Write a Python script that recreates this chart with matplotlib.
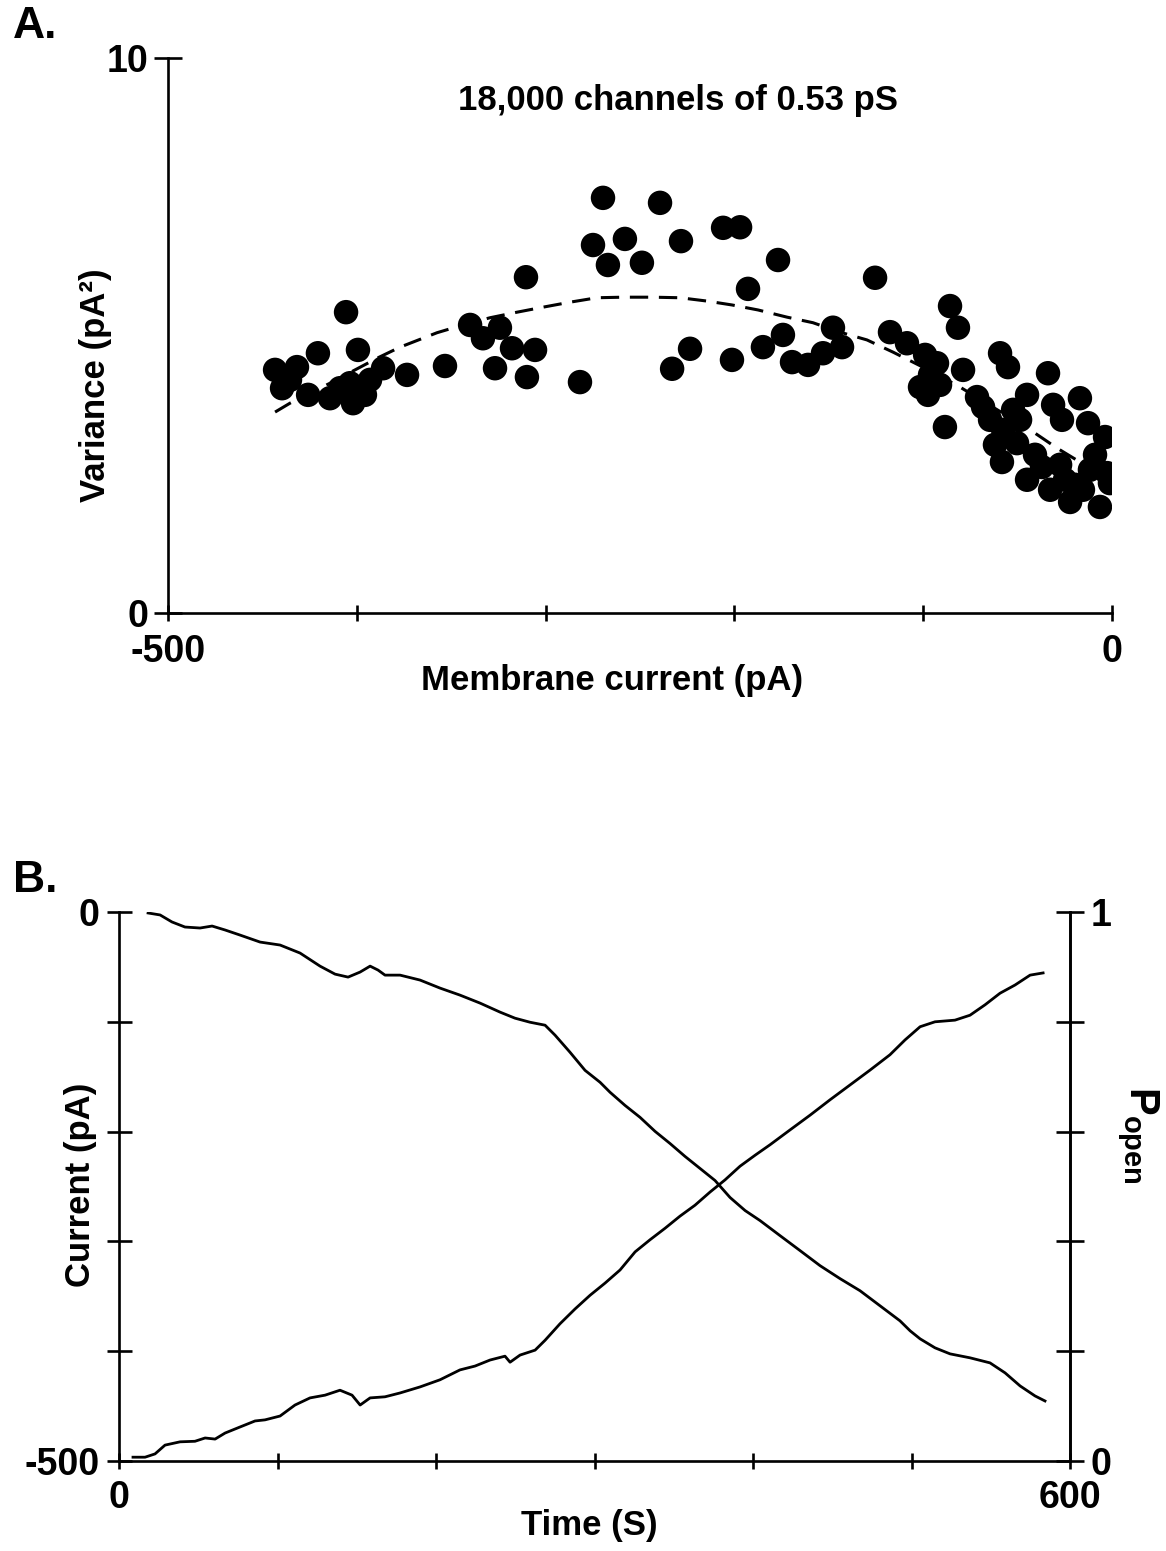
import numpy as np
import matplotlib
matplotlib.use("Agg")
import matplotlib.pyplot as plt

plt.rcParams['font.family'] = ['Liberation Sans', 'DejaVu Sans']
plt.rcParams['font.weight'] = 'bold'
plt.rcParams['axes.labelweight'] = 'bold'
plt.rcParams['mathtext.fontset'] = 'custom'
plt.rcParams['mathtext.rm'] = 'Liberation Sans:bold'
plt.rcParams['mathtext.it'] = 'Liberation Sans:bold'
plt.rcParams['mathtext.bf'] = 'Liberation Sans:bold'
plt.rcParams['mathtext.default'] = 'regular'

# ---- panel A: variance vs membrane current ----
current_pA = [-405.7, -443.3, -431.7, -420.6, -439.6, -425.8, -414.2, -402.0, -399.4, -403.6,
              -386.1, -393.0, -373.4, -353.3, -340.0, -333.2, -324.2, -317.8, -305.6, -326.8,
              -309.9, -310.4, -281.8, -269.6, -239.4, -274.9, -258.0, -267.0, -249.0, -228.3,
              -206.0, -197.0, -176.9, -192.8, -125.5, -233.0, -223.5, -201.3, -184.9, -174.3,
              -169.5, -161.0, -153.1, -147.8, -143.0, -117.6, -108.6, -99.0, -92.7, -85.8,
              -81.6, -101.7, -97.5, -78.9, -88.5, -59.3, -55.1, -33.9, -71.5, -68.3,
              -45.0, -52.4, -57.7, -50.3, -31.2, -17.0, -26.5, -12.7, -3.7, -58.3,
              -45.0, -37.1, -32.8, -24.9, -22.2, -11.7, -2.6, -1.1, -6.4, -15.4,
              -408.9, -64.6, -62.0, -40.8, -27.5, -19.6, -9.0, -96.4, -91.1, -435.4,
              -395.7, -48.7]
variance = [5.42, 4.38, 4.43, 4.68, 4.05, 3.93, 3.87, 3.78, 4.74, 4.14,
            4.41, 4.20, 4.29, 4.45, 5.19, 4.95, 5.14, 4.77, 4.74, 4.41,
            4.25, 6.05, 4.16, 7.48, 7.39, 6.63, 6.74, 6.27, 6.31, 6.70,
            6.94, 6.95, 6.36, 5.84, 6.04, 4.40, 4.76, 4.56, 4.79, 5.01,
            4.52, 4.47, 4.68, 5.14, 4.79, 5.06, 4.86, 4.65, 4.50, 5.53,
            5.14, 4.07, 3.93, 4.38, 3.35, 4.68, 4.43, 4.32, 3.89, 3.71,
            3.93, 3.66, 3.30, 3.06, 3.75, 3.87, 3.48, 3.42, 3.17, 2.72,
            2.40, 2.63, 2.22, 2.40, 2.00, 2.58, 2.52, 2.34, 1.91, 2.22,
            4.05, 3.48, 3.03, 2.85, 2.67, 2.31, 2.85, 4.29, 4.11, 4.20,
            3.93, 3.48]

fit_current = [-443.3, -435.4, -414.2, -389.3, -377.1, -357.5, -343.7, -329.4, -315.1, -301.4,
               -287.1, -272.8, -259.0, -243.1, -228.8, -214.5, -201.3, -187.5, -172.1, -158.4,
               -144.1, -129.8, -116.0, -99.0, -80.5, -43.4, -29.1, -17.0, -6.4]
fit_variance = [3.62, 3.78, 4.14, 4.59, 4.79, 5.05, 5.19, 5.32, 5.42, 5.51,
                5.60, 5.68, 5.69, 5.69, 5.68, 5.62, 5.55, 5.46, 5.33, 5.23,
                5.06, 4.92, 4.70, 4.41, 4.07, 3.30, 2.97, 2.72, 2.50]

# ---- panel B: current and P_open vs time ----
t_current = [18.3, 25.9, 33.4, 41.6, 51.1, 58.7, 66.9, 76.3, 89.0, 101.6,
             114.2, 126.8, 136.3, 144.5, 152.1, 158.4, 163.4, 167.8, 177.3, 189.9,
             202.5, 215.1, 227.8, 240.4, 249.8, 259.3, 268.8, 275.1, 284.5, 294.0,
             303.5, 309.8, 319.2, 328.7, 338.2, 347.6, 357.1, 366.6, 376.0, 385.5,
             395.0, 404.4, 417.0, 429.7, 442.3, 454.9, 467.5, 480.1, 492.7, 499.1,
             505.4, 514.8, 524.3, 536.9, 549.5, 559.0, 568.5, 577.9, 584.2]
current_trace = [-0.9, -2.7, -9.1, -13.7, -14.6, -12.8, -16.4, -21.0, -27.4, -30.1,
                 -37.4, -49.3, -56.6, -59.3, -54.7, -49.3, -52.9, -57.5, -57.5, -62.0,
                 -69.3, -75.7, -83.0, -91.2, -96.7, -100.4, -103.1, -112.2, -127.7, -144.2,
                 -155.1, -164.2, -176.1, -187.0, -199.8, -210.8, -222.6, -233.6, -244.5, -260.0,
                 -271.9, -281.0, -294.7, -308.4, -322.1, -333.9, -344.9, -358.6, -372.3, -381.4,
                 -388.7, -396.9, -402.4, -406.0, -410.6, -419.7, -431.6, -440.7, -445.3]

t_popen = [8.8, 16.4, 22.7, 29.0, 38.5, 47.9, 54.3, 60.6, 66.9, 76.3,
           85.8, 92.1, 101.6, 111.0, 120.5, 130.0, 139.4, 147.0, 152.1, 158.4,
           167.8, 177.3, 189.9, 202.5, 215.1, 224.6, 234.1, 243.5, 246.7, 253.0,
           262.5, 268.8, 278.2, 287.7, 297.2, 306.6, 316.1, 325.6, 335.0, 344.5,
           353.9, 363.4, 372.9, 382.3, 391.8, 401.3, 410.7, 423.3, 436.0, 448.6,
           461.2, 473.8, 486.4, 495.9, 505.4, 514.8, 527.4, 536.9, 546.4, 555.8,
           565.3, 574.8, 583.0]
popen = [0.007, 0.007, 0.013, 0.029, 0.035, 0.036, 0.042, 0.040, 0.051, 0.062,
         0.073, 0.075, 0.082, 0.102, 0.115, 0.120, 0.129, 0.120, 0.102, 0.115,
         0.117, 0.124, 0.135, 0.148, 0.166, 0.173, 0.184, 0.191, 0.180, 0.193,
         0.202, 0.220, 0.250, 0.277, 0.302, 0.324, 0.348, 0.381, 0.403, 0.424,
         0.446, 0.466, 0.490, 0.512, 0.537, 0.557, 0.576, 0.603, 0.630, 0.658,
         0.685, 0.712, 0.740, 0.767, 0.791, 0.800, 0.803, 0.812, 0.831, 0.852,
         0.867, 0.885, 0.889]

fig = plt.figure(figsize=(11.66, 15.51), dpi=100)

LW = 1.9
FS = 27

# ---------------- A ----------------
axA = fig.add_axes([0.1441, 0.6048, 0.8096, 0.3578])
axA.scatter(current_pA, variance, s=310, color='black', edgecolors='none', zorder=3)
axA.plot(fit_current, fit_variance, color='black', lw=2.2, dashes=(6, 3.5), zorder=2)
axA.set_xlim(-500, 0)
axA.set_ylim(0, 10)
for s in ['top', 'right']:
    axA.spines[s].set_visible(False)
for s in ['left', 'bottom']:
    axA.spines[s].set_linewidth(LW)
axA.set_xticks(np.arange(-500, 1, 100))
axA.set_xticklabels(['-500', '', '', '', '', '0'])
axA.set_yticks([0, 10])
axA.set_yticklabels(['0', '10'])
axA.tick_params(axis='x', direction='inout', length=11, width=LW, pad=10, labelsize=FS)
axA.tick_params(axis='y', direction='inout', length=20, width=LW, pad=4, labelsize=FS)
axA.text(-230, 9.24, '18,000 channels of 0.53 pS', ha='center', va='center',
         fontsize=25, fontweight='bold')
axA.set_xlabel('Membrane current (pA)', fontsize=25, fontweight='bold', va='center')
axA.xaxis.set_label_coords(0.47, -0.121)
axA.set_ylabel('Variance (pA²)', fontsize=25, fontweight='bold', va='center')
axA.yaxis.set_label_coords(-0.0773, 0.411)

fig.text(0.030, 0.9826, 'A.', fontsize=32, fontweight='bold', ha='center', va='center')

# ---------------- B ----------------
axB = fig.add_axes([0.1021, 0.0580, 0.8156, 0.3540])
axB.plot(t_current, current_trace, color='black', lw=2.0)
axB.set_xlim(0, 600)
axB.set_ylim(-500, 0)
axB.spines['top'].set_visible(False)
for s in ['left', 'bottom', 'right']:
    axB.spines[s].set_linewidth(LW)
axB.set_xticks(np.arange(0, 601, 100))
axB.set_xticklabels(['0', '', '', '', '', '', '600'])
axB.set_yticks(np.arange(-500, 1, 100))
axB.set_yticklabels(['-500', '', '', '', '', '0'])
axB.tick_params(axis='x', direction='inout', length=11, width=LW, pad=8, labelsize=FS)
axB.tick_params(axis='y', direction='inout', length=18, width=LW, pad=5, labelsize=FS)
axB.set_xlabel('Time (S)', fontsize=25, fontweight='bold', va='center')
axB.xaxis.set_label_coords(0.495, -0.1166)
axB.set_ylabel('Current (pA)', fontsize=25, fontweight='bold', va='center')
axB.yaxis.set_label_coords(-0.041, 0.503)

axR = axB.twinx()
axR.plot(t_popen, popen, color='black', lw=2.0)
axR.set_ylim(0, 1)
axR.spines['top'].set_visible(False)
axR.spines['right'].set_linewidth(LW)
axR.set_yticks(np.arange(0, 1.01, 0.2))
axR.set_yticklabels(['0', '', '', '', '', '1'])
axR.tick_params(axis='y', direction='inout', length=20, width=LW, pad=5, labelsize=FS)
axR.set_ylabel('$P_{open}$', fontsize=30, rotation=-90, va='center')
axR.yaxis.set_label_coords(1.0715, 0.594)

fig.text(0.030, 0.432, 'B.', fontsize=32, fontweight='bold', ha='center', va='center')

fig.savefig('out.png', dpi=100)
